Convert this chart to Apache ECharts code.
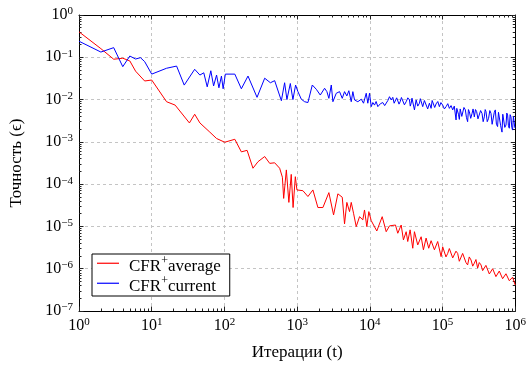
<!DOCTYPE html>
<html><head><meta charset="utf-8">
<script src="https://cdn.jsdelivr.net/npm/echarts@6/dist/echarts.min.js"></script>
<style>html,body{margin:0;padding:0;background:#fff}#c{width:529px;height:367px}</style>
</head><body><div id="c"></div>
<script>
const seriesNames = ['CFR+average', 'CFR+current'];
const xTitle = 'Итерации (t)';
const yTitle = 'Точность (ϵ)';

const avgIters = [1,2,3,4,5,6,8,10,16,21,33,39,46,63,78,101,139,171,205,247,290,358,420,491,575,627,653,711,770,830,880,945,994,1201,1407,1648,1931,2262,2733,3172,3633,4176,4489,4830,5260,5550,5970,6500,7220,8010,8450,9090,9690,10450,12470,14790,16790,18630,22530,24230,26980,28980,31600,33220,35810,38930,41080,45600,50760,54580,59400,64550,69610,77320,85780,95500,100500,106000,111500,117700,124000,131000,138000,145600,153000,161400,170000,179700,189000,199500,210000,221400,233000,246400,260000,273600,288000,303900,320000,338100,356000,375500,395000,416900,440000,464100,489000,515300,542000,571600,603000,636200,670000,706400,745000,785200,828000,873500,920000,970000,1000000];
const avgVals = [0.40,0.16,0.090,0.095,0.082,0.047,0.0275,0.029,0.0089,0.0074,0.0028,0.0045,0.0028,0.0017,0.0012,0.00098,0.00115,0.00058,0.00063,2.38e-4,3.4e-4,4.5e-4,3.1e-4,3.2e-4,2.38e-4,1.46e-4,4.6e-5,2.17e-4,3.7e-5,1.7e-4,2.8e-5,1.5e-4,7.3e-5,7.0e-5,5.1e-5,7.3e-5,2.8e-5,2.8e-5,6.3e-5,1.87e-5,5.9e-5,4.9e-5,1.15e-5,3.7e-5,2.24e-5,3.7e-5,2.05e-5,9.9e-6,1.7e-5,1.43e-5,2.45e-5,9.9e-6,2.24e-5,1.37e-5,7.8e-6,1.7e-5,7.5e-6,1.03e-5,1.08e-5,6.9e-6,1.08e-5,4.8e-6,7.5e-6,4.4e-6,8.3e-6,3.05e-6,7.5e-6,3.65e-6,5.7e-6,2.8e-6,5.3e-6,3.05e-6,4.6e-6,2.8e-6,4.4e-6,1.93e-6,3.3e-6,3.05e-6,1.9e-6,2.3e-6,3.0e-6,2.8e-6,1.8e-6,1.77e-6,2.6e-6,2.3e-6,1.5e-6,1.61e-6,2.3e-6,2.1e-6,1.4e-6,1.23e-6,1.9e-6,1.61e-6,1.15e-6,1.35e-6,1.65e-6,1.03e-6,1.4e-6,1.23e-6,9.0e-7,9.4e-7,1.2e-6,1.12e-6,7.5e-7,7.8e-7,1.0e-6,9.4e-7,6.5e-7,6.8e-7,8.8e-7,8.5e-7,5.8e-7,6.0e-7,7.6e-7,7.1e-7,5.2e-7,4.95e-7,6.3e-7,6.0e-7,4.1e-7];

const curIters = [1,2,3,4,5,6,7,8,10,16,22,28,39,46,52,58,65,71,78,84,91,96,103,139,171,211,281,358,429,491,607,673,724,806,875,953,1026,1142,1268,1407,1617,1835,2083,2386,2567,2733,2950,3104,3455,3833,4176,4489,4830,5145,5550,5840,6160,6840,7620,8190,8920,9380,9900,10450,11000,11600,12200,12880,14000,15080,16000,16790,17700,18630,19660,20690,21600,22530,23400,24230,25200,26130,27200,28370,29900,31600,33300,35080,36000,37000,38000,38930,41080,43350,45600,48110,49500,50760,53370,56300,59400,62500,65940,69610,72000,74850,78000,81470,86000,90490,95000,100500,106000,111900,118000,124200,131000,137900,145000,153400,157000,161400,165500,170300,175000,179700,184000,189100,197000,206000,213000,221400,227000,233600,244000,254600,263000,273600,284000,294300,307000,320400,334000,349100,362000,375500,386000,396000,412000,429800,447000,464100,481000,499100,515000,531700,551000,571600,588000,603600,630000,657400,674000,691500,718000,746100,765000,785200,806000,828300,850000,873500,896000,918800,944000,970000,985000,1000000];
const curVals = [0.24,0.133,0.169,0.060,0.107,0.091,0.098,0.079,0.040,0.055,0.062,0.022,0.052,0.038,0.043,0.020,0.048,0.021,0.038,0.019,0.036,0.018,0.040,0.040,0.018,0.036,0.0113,0.032,0.025,0.028,0.0094,0.025,0.010,0.024,0.010,0.022,0.0154,0.0102,0.0089,0.0085,0.0221,0.0175,0.0128,0.0185,0.0154,0.0107,0.0221,0.0089,0.0141,0.0154,0.0107,0.0154,0.0122,0.0162,0.0089,0.0154,0.0098,0.0089,0.0102,0.0082,0.0141,0.0082,0.0141,0.0068,0.0085,0.0074,0.0090,0.0068,0.0080,0.0085,0.0072,0.0068,0.0095,0.0117,0.0098,0.0113,0.0082,0.0089,0.0110,0.0117,0.0078,0.0089,0.0112,0.0107,0.0075,0.0089,0.0110,0.0098,0.0070,0.0082,0.0108,0.0102,0.0057,0.0098,0.0070,0.0082,0.0105,0.0102,0.0068,0.0095,0.0089,0.0060,0.0082,0.0062,0.0095,0.0089,0.0065,0.0079,0.0090,0.0068,0.0085,0.0074,0.0060,0.0068,0.0080,0.0062,0.0072,0.0057,0.0070,0.0033,0.0062,0.0068,0.0045,0.0034,0.0060,0.0062,0.0040,0.0043,0.0065,0.0057,0.0038,0.0030,0.0058,0.0052,0.0036,0.0047,0.0060,0.0039,0.0058,0.0052,0.0035,0.0033,0.0055,0.0047,0.0030,0.0039,0.0058,0.0052,0.0030,0.0036,0.0055,0.0047,0.0026,0.0028,0.0050,0.0057,0.0026,0.0023,0.0050,0.0047,0.0024,0.0017,0.0045,0.0047,0.0022,0.0025,0.0048,0.0043,0.0024,0.0021,0.0044,0.0039,0.0022,0.0019,0.0040,0.0036,0.0022,0.0021];

const xMajor = [1, 10, 100, 1000, 10000, 100000, 1000000];
const yMajor = [1e-7, 1e-6, 1e-5, 1e-4, 1e-3, 1e-2, 1e-1, 1];

function minorsOf(majors) {
  const out = [];
  for (let i = 0; i < majors.length - 1; i++)
    for (let k = 2; k <= 9; k++) out.push(+(majors[i] * k).toPrecision(3));
  return out;
}
const xMinor = minorsOf(xMajor);
const yMinor = minorsOf(yMajor);

const FF = '"Liberation Serif","DejaVu Serif",serif';
const rich = {
  b: { fontSize: 16, fontFamily: FF, color: '#000' },
  s: { fontSize: 11, fontFamily: FF, color: '#000', verticalAlign: 'bottom', padding: [0, 0, 7, 0] }
};
function powLabel(v) {
  const e = Math.round(Math.log10(v));
  return '{b|10}{s|' + String(e).replace('-', '\u2212') + '}';
}
const tickColor = '#222';

function axisSet(kind, position, majors, minors, isMain) {
  const base = { type: 'log', logBase: 10, position: position,
    min: majors[0], max: majors[majors.length - 1], splitNumber: majors.length - 1 };
  const major = Object.assign({}, base, {
    axisLine: { show: true, lineStyle: { color: '#000', width: 1 } },
    axisTick: { show: true, inside: true, length: 4.5, customValues: majors, lineStyle: { color: tickColor } },
    axisLabel: isMain ? { show: true, customValues: majors, formatter: powLabel, rich: rich, margin: 6 } : { show: false },
    splitLine: isMain ? { show: true, lineStyle: { type: [3, 3], color: '#c4c4c4', width: 1 } } : { show: false },
    minorTick: { show: false }
  });
  const minor = Object.assign({}, base, {
    axisLine: { show: false },
    axisTick: { show: true, inside: true, length: 2.5, customValues: minors, lineStyle: { color: tickColor } },
    axisLabel: { show: false },
    splitLine: { show: false }
  });
  if (isMain) {
    major.name = kind === 'x' ? xTitle : yTitle;
    major.nameLocation = 'middle';
    major.nameGap = kind === 'x' ? 33 : 54;
    major.nameTextStyle = { fontFamily: FF, fontSize: 17, color: '#000' };
  }
  return [major, minor];
}

const xAxes = axisSet('x', 'bottom', xMajor, xMinor, true).concat(axisSet('x', 'top', xMajor, xMinor, false));
const yAxes = axisSet('y', 'left', yMajor, yMinor, true).concat(axisSet('y', 'right', yMajor, yMinor, false));

const avgData = avgIters.map((t, i) => [t, avgVals[i]]);
const curData = curIters.map((t, i) => [t, curVals[i]]);

const chart = echarts.init(document.getElementById('c'), null, { renderer: 'canvas' });
chart.setOption({
  animation: false,
  backgroundColor: '#fff',
  grid: { left: 79, right: 13, top: 15, bottom: 56, containLabel: false },
  xAxis: xAxes,
  yAxis: yAxes,
  legend: {
    left: 92, top: 254, orient: 'vertical',
    backgroundColor: '#fff', borderColor: '#000', borderWidth: 1, borderRadius: 0,
    padding: [1, 9, 1, 5], itemGap: 0, itemWidth: 22, itemHeight: 1.2, icon: 'rect',
    data: seriesNames,
    formatter: function (n) {
      return '{n|CFR}{s|+}{n|' + n.replace('CFR+', '') + '}';
    },
    textStyle: {
      fontFamily: FF, fontSize: 17, color: '#000', padding: [0, 0, 0, 5],
      rich: {
        n: { fontFamily: FF, fontSize: 17, color: '#000', verticalAlign: 'bottom', lineHeight: 23.5 },
        s: { fontFamily: FF, fontSize: 12, color: '#000', verticalAlign: 'bottom', padding: [0, 0, 8, 0] }
      }
    }
  },
  series: [
    { name: seriesNames[0], type: 'line', xAxisIndex: 0, yAxisIndex: 0, data: avgData,
      symbol: 'none', lineStyle: { color: '#ff0000', width: 1 }, itemStyle: { color: '#ff0000' } },
    { name: seriesNames[1], type: 'line', xAxisIndex: 0, yAxisIndex: 0, data: curData,
      symbol: 'none', lineStyle: { color: '#0000ff', width: 1 }, itemStyle: { color: '#0000ff' } }
  ]
});
</script>
</body></html>
